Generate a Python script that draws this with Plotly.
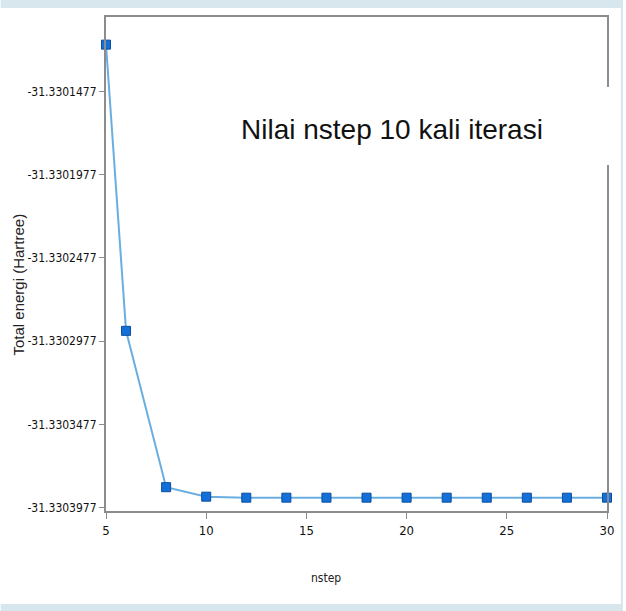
import plotly.graph_objects as go

# nstep convergence test: total energy per number of iterations
nstep = [5, 6, 8, 10, 12, 14, 16, 18, 20, 22, 24, 26, 28, 30]
total_energy = [
    -31.3301196, -31.3302915, -31.3303854, -31.3303911, -31.3303917,
    -31.3303917, -31.3303917, -31.3303917, -31.3303917, -31.3303917,
    -31.3303917, -31.3303917, -31.3303917, -31.3303917,
]
y_ticks = [-31.3301477, -31.3301977, -31.3302477, -31.3302977, -31.3303477, -31.3303977]
x_ticks = [5, 10, 15, 20, 25, 30]

W, H = 626, 611
L, R, T, B = 106, 610, 17, 511  # plot area in pixels


def px(X):
    return (X - L) / (R - L)


def py(Y):
    return (B - Y) / (B - T)


band = "#d8e7ee"
condensed = "DejaVu Sans Condensed, DejaVu Sans, sans-serif"

fig = go.Figure()
fig.add_trace(go.Scatter(
    x=nstep, y=total_energy, mode="lines+markers",
    line=dict(color="#6aaee0", width=2),
    marker=dict(symbol="square", size=9, color="#1270d8",
                line=dict(color="#0b4d9e", width=1)),
    showlegend=False, cliponaxis=False,
))

fig.update_layout(
    width=W, height=H,
    margin=dict(l=L, r=W - R, t=T, b=H - B),
    paper_bgcolor="white", plot_bgcolor="white",
    xaxis=dict(
        range=[5, 30], tickvals=x_ticks, ticktext=[str(v) for v in x_ticks],
        showgrid=False, zeroline=False, showline=True, mirror=True,
        linecolor="#8c8c8c", linewidth=2,
        ticks="outside", ticklen=6, tickcolor="#8c8c8c", tickwidth=1,
        tickfont=dict(family=condensed, size=13, color="#111"),
    ),
    yaxis=dict(
        range=[-31.3303997, -31.3301030], tickvals=y_ticks,
        ticktext=[f"{v:.7f}" for v in y_ticks],
        showgrid=False, zeroline=False, showline=True, mirror=True,
        linecolor="#8c8c8c", linewidth=2,
        ticks="outside", ticklen=5, tickcolor="#8c8c8c", tickwidth=1,
        tickfont=dict(family=condensed, size=12, color="#111"),
    ),
    shapes=[
        # light bands framing the figure
        dict(type="rect", xref="paper", yref="paper", x0=px(0), x1=px(W),
             y0=py(8), y1=py(0), fillcolor=band, line_width=0, layer="above"),
        dict(type="rect", xref="paper", yref="paper", x0=px(0), x1=px(W),
             y0=py(H), y1=py(604), fillcolor=band, line_width=0, layer="above"),
        dict(type="rect", xref="paper", yref="paper", x0=px(624), x1=px(W),
             y0=py(H), y1=py(0), fillcolor=band, line_width=0, layer="above"),
        # white label box
        dict(type="rect", xref="paper", yref="paper", x0=px(230), x1=px(614),
             y0=py(165), y1=py(87), fillcolor="white", line_width=0, layer="above"),
    ],
    annotations=[
        dict(text="Nilai nstep 10 kali iterasi", xref="paper", yref="paper",
             x=px(394), y=py(129), showarrow=False, xanchor="center", yanchor="middle",
             font=dict(family="Liberation Sans, Arial, sans-serif", size=28, color="#111")),
        dict(text="Total energi (Hartree)", xref="paper", yref="paper",
             x=px(17), y=py(285), showarrow=False, textangle=-90,
             xanchor="center", yanchor="middle",
             font=dict(family="Liberation Sans, Arial, sans-serif", size=15, color="#222")),
        dict(text="nstep", xref="paper", yref="paper",
             x=px(327), y=py(578), showarrow=False, xanchor="center", yanchor="middle",
             font=dict(family=condensed, size=12, color="#222")),
    ],
)

fig.write_html("out.html")
